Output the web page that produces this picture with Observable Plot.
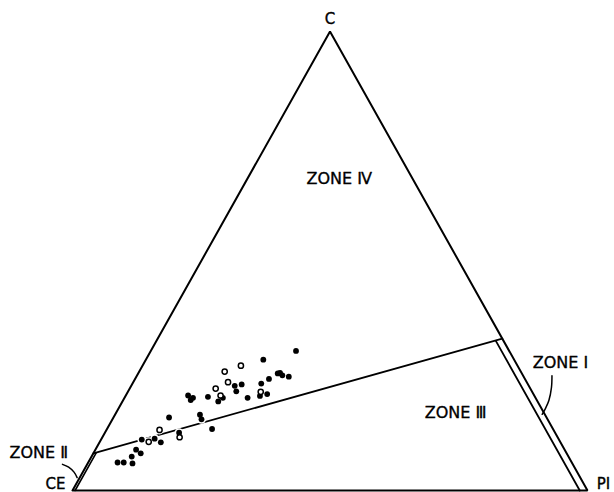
<!DOCTYPE html>
<html>
<head>
<meta charset="utf-8">
<script src="https://cdn.jsdelivr.net/npm/d3@7"></script>
<script src="https://cdn.jsdelivr.net/npm/@observablehq/plot@0.6"></script>
<style>
  html, body { margin: 0; padding: 0; background: #fff; }
  #chart svg { display: block; }
</style>
</head>
<body>
<div id="chart"></div>
<script>
// Ternary compositions in percent: C (apex), PI (bottom right), CE = 100 - C - PI (bottom left)
const vertexNames = ["CE", "PI", "C"];
const vertexC  = [0, 0, 100];
const vertexPI = [0, 100, 0];

// filled symbols
const filledC  = [6.1, 6.1, 7.4, 5.9, 8.9, 8.1, 11.1, 11.3, 10.5, 15.9, 12.6, 20.7, 19.7, 20.2, 16.5, 15.5, 20.4, 13.4, 19.4, 20.2, 22.8, 21.6, 23.1, 20.2, 28.5, 23.3, 24.3, 20.6, 21.0, 25.5, 25.6, 25.1, 24.8, 30.4];
const filledPI = [5.7, 6.9, 7.8, 8.7, 7.9, 9.2, 7.9, 10.3, 11.9, 10.8, 14.4, 12.1, 13.1, 13.3, 16.5, 17.3, 16.1, 20.4, 18.6, 19.1, 20.1, 21.0, 21.3, 23.9, 22.8, 25.0, 26.0, 26.1, 27.3, 27.1, 27.5, 28.2, 29.6, 28.2];
// open symbols
const openC  = [10.6, 13.2, 11.6, 22.2, 20.7, 25.9, 23.6, 27.2, 21.5];
const openPI = [9.5, 10.3, 15.0, 16.7, 18.4, 16.6, 18.4, 19.1, 25.8];

// zone boundaries
const dividerC  = [8.1, 33.1];
const dividerPI = [0, 66.9];
const zoneIBoundC  = [32.6, 0];
const zoneIBoundPI = [65.9, 98.5];
const zoneIIBoundC  = [8.2, 0];
const zoneIIBoundPI = [0.5, 0.5];

// zone labels and leaders
const zoneNames = ["ZONE \u2160", "ZONE \u2161", "ZONE \u2162", "ZONE \u2163"];
const zoneC  = [27.7, 8.1, 17.0, 68.0];
const zonePI = [80.9, -10.6, 65.9, 17.8];
const leaderIC  = [25.0, 22.4, 19.6, 17.8, 16.6];
const leaderIPI = [80.6, 81.8, 82.7, 82.9, 82.9];
const leaderIIC  = [5.7, 5.1, 4.0, 2.8];
const leaderIIPI = [-4.8, -3.3, -1.7, -0.5];

const pts = (C, PI) => C.map((c, i) => ({C: c, PI: PI[i]}));
const tx = d => d.PI + d.C / 2;
const ty = d => d.C;

const verts = vertexNames.map((n, i) => ({name: n, C: vertexC[i], PI: vertexPI[i]}));
const outline = [...verts, verts[0]];
const filled = pts(filledC, filledPI);
const open = pts(openC, openPI);
const allPts = [...filled, ...open];
const zones = zoneNames.map((n, i) => ({name: n, C: zoneC[i], PI: zonePI[i]}));

const font = "DejaVu Sans, sans-serif";
const lineOpts = {x: tx, y: ty, stroke: "black", strokeWidth: 1.8, strokeLinejoin: "miter"};
const textOpts = {x: tx, y: ty, text: "name", fontSize: 16, fontFamily: font, fill: "black", stroke: "black", strokeWidth: 0.35};
const vText = (name, dx, dy) => Plot.text(verts.filter(v => v.name === name), {...textOpts, fontSize: 15, dx, dy});

const chart = Plot.plot({
  width: 614,
  height: 492,
  marginLeft: 72,
  marginRight: 27,
  marginTop: 31,
  marginBottom: 2,
  x: {domain: [0, 100], axis: null},
  y: {domain: [0, 100], axis: null},
  style: {background: "white", overflow: "visible"},
  marks: [
    Plot.line(outline, {...lineOpts, strokeWidth: 2}),
    Plot.line(pts(dividerC, dividerPI), lineOpts),
    Plot.line(pts(zoneIBoundC, zoneIBoundPI), lineOpts),
    Plot.line(pts(zoneIIBoundC, zoneIIBoundPI), {...lineOpts, strokeWidth: 1.6}),
    Plot.line(pts(leaderIC, leaderIPI), {...lineOpts, strokeWidth: 1.5, curve: "catmull-rom"}),
    Plot.line(pts(leaderIIC, leaderIIPI), {...lineOpts, strokeWidth: 1.5, curve: "catmull-rom"}),
    Plot.dot(allPts, {x: tx, y: ty, r: 4.5, fill: "white", stroke: "none"}),
    Plot.dot(filled, {x: tx, y: ty, r: 2.9, fill: "black", stroke: "none"}),
    Plot.dot(open, {x: tx, y: ty, r: 2.6, fill: "white", stroke: "black", strokeWidth: 1.5}),
    Plot.text(zones, textOpts),
    vText("C", 0, -12),
    vText("CE", -17, -6),
    vText("PI", 16, -6)
  ]
});
document.getElementById("chart").appendChild(chart);
</script>
</body>
</html>
